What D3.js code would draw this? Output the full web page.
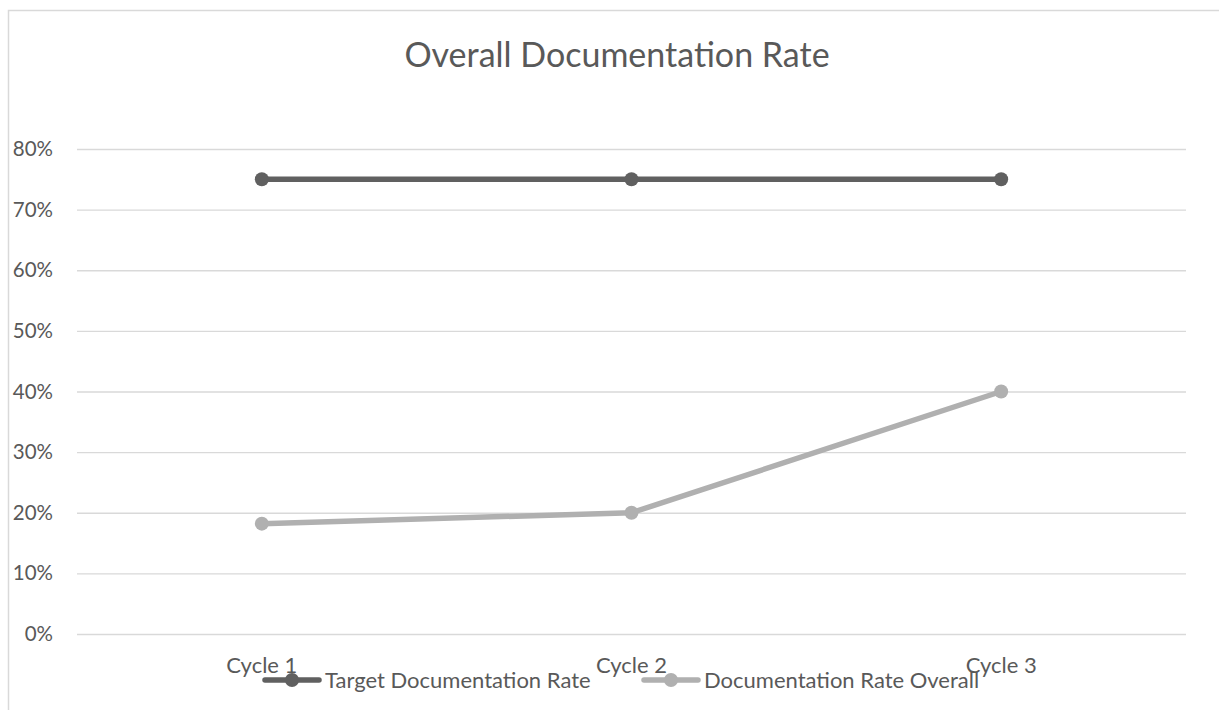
<!DOCTYPE html>
<html>
<head>
<meta charset="utf-8">
<script src="https://cdn.jsdelivr.net/npm/d3@7"></script>
<style>
  body { margin: 0; background: #fff; }
  text { font-family: Lato, "Open Sans", sans-serif; fill: #595959; }
</style>
</head>
<body>
<div id="chart"></div>
<script>
// chart data
const cycles = ['Cycle 1', 'Cycle 2', 'Cycle 3'];
const targetRate = [0.75, 0.75, 0.75];
const overallRate = [0.182, 0.20, 0.40];
const yTicks = [0, 0.1, 0.2, 0.3, 0.4, 0.5, 0.6, 0.7, 0.8];
const seriesNames = ['Target Documentation Rate', 'Documentation Rate Overall'];
const seriesColors = ['#606060', '#b0b0b0'];

let width = 1219;
let height = 710;
let margin = { left: 77, right: 33, top: 149, bottom: 76 };

let svg = d3.select('#chart')
  .append('svg')
  .attr('width', width)
  .attr('height', height);

// outer chart border (left and top visible)
svg.append('path')
  .attr('d', 'M8.5,710 V10.5 H1219')
  .attr('fill', 'none')
  .attr('stroke', '#d9d9d9')
  .attr('stroke-width', 1.5);

let x = d3.scaleBand()
  .domain(cycles)
  .range([margin.left, width - margin.right]);

let y = d3.scaleLinear()
  .domain([0, 0.8])
  .range([height - margin.bottom, margin.top]);

// gridlines + y labels
let yAxis = d3.axisLeft(y)
  .tickValues(yTicks)
  .tickFormat(d3.format('.0%'))
  .tickSize(-(width - margin.left - margin.right))
  .tickPadding(24);

let gy = svg.append('g')
  .attr('transform', 'translate(' + margin.left + ',0)')
  .call(yAxis);
gy.select('.domain').remove();
gy.selectAll('.tick line').attr('stroke', '#d9d9d9').attr('stroke-width', 1.3);
gy.selectAll('.tick text').style('font-size', '20.5px').attr('fill', '#595959');

// x labels
let xAxis = d3.axisBottom(x).tickSize(0).tickPadding(0);
let gx = svg.append('g')
  .attr('transform', 'translate(0,' + (height - margin.bottom) + ')')
  .call(xAxis);
gx.select('.domain').remove();
gx.selectAll('.tick text')
  .style('font-size', '22px')
  .attr('fill', '#595959')
  .attr('dy', null)
  .attr('y', 39);

// series
let series = [targetRate, overallRate];
let line = d3.line()
  .x(function(d, i) { return x(cycles[i]) + x.bandwidth() / 2; })
  .y(function(d) { return y(d); });

series.forEach(function(vals, s) {
  svg.append('path')
    .datum(vals)
    .attr('d', line)
    .attr('fill', 'none')
    .attr('stroke', seriesColors[s])
    .attr('stroke-width', 5.5)
    .attr('stroke-linejoin', 'round');

  svg.selectAll('.dot' + s)
    .data(vals)
    .enter()
    .append('circle')
    .attr('cx', function(d, i) { return x(cycles[i]) + x.bandwidth() / 2; })
    .attr('cy', function(d) { return y(d); })
    .attr('r', 7)
    .attr('fill', seriesColors[s]);
});

// title
svg.append('text')
  .attr('x', 617)
  .attr('y', 67)
  .attr('text-anchor', 'middle')
  .style('font-size', '34px')
  .text('Overall Documentation Rate');

// legend
let legendX = [265, 644];
seriesNames.forEach(function(name, i) {
  let g = svg.append('g').attr('transform', 'translate(' + legendX[i] + ',680)');
  g.append('line')
    .attr('x1', 0).attr('x2', 54)
    .attr('stroke', seriesColors[i])
    .attr('stroke-width', 5.5)
    .attr('stroke-linecap', 'round');
  g.append('circle').attr('cx', 27).attr('r', 7).attr('fill', seriesColors[i]);
  g.append('text')
    .attr('x', 60)
    .attr('y', 8)
    .style('font-size', '22px')
    .text(name);
});
</script>
</body>
</html>
